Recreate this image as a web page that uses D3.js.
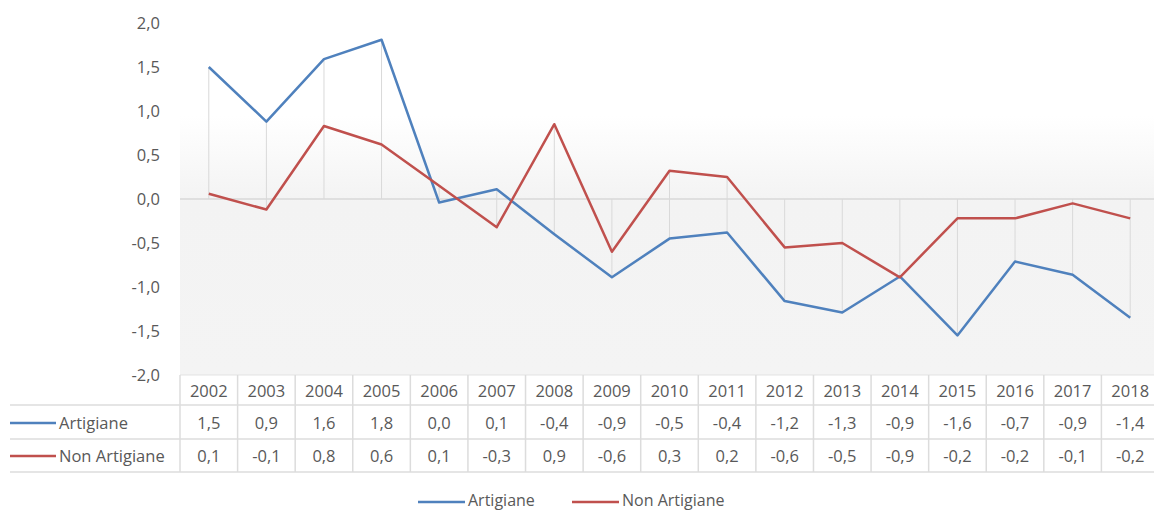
<!DOCTYPE html>
<html>
<head>
<meta charset="utf-8">
<script src="https://cdn.jsdelivr.net/npm/d3@7"></script>
<style>
  body { margin: 0; background: #fff; }
  svg { display: block; font-family: "Open Sans", sans-serif; }
</style>
</head>
<body>
<svg id="chart"></svg>
<script>
// data
const years = ["2002", "2003", "2004", "2005", "2006", "2007", "2008", "2009", "2010",
    "2011", "2012", "2013", "2014", "2015", "2016", "2017", "2018"];
const artigiane = [1.50, 0.88, 1.59, 1.81, -0.04, 0.11, -0.40, -0.89, -0.45,
    -0.38, -1.16, -1.29, -0.88, -1.55, -0.71, -0.86, -1.35];
const nonArtigiane = [0.06, -0.12, 0.83, 0.62, 0.15, -0.32, 0.85, -0.60, 0.32,
    0.25, -0.55, -0.50, -0.89, -0.22, -0.22, -0.05, -0.22];
// values as printed in the data table
const artigianeLabels = ["1,5", "0,9", "1,6", "1,8", "0,0", "0,1", "-0,4", "-0,9", "-0,5",
    "-0,4", "-1,2", "-1,3", "-0,9", "-1,6", "-0,7", "-0,9", "-1,4"];
const nonArtigianeLabels = ["0,1", "-0,1", "0,8", "0,6", "0,1", "-0,3", "0,9", "-0,6", "0,3",
    "0,2", "-0,6", "-0,5", "-0,9", "-0,2", "-0,2", "-0,1", "-0,2"];
const yTicks = [2, 1.5, 1, 0.5, 0, -0.5, -1, -1.5, -2];

const series = [
    { name: "Artigiane", values: artigiane, labels: artigianeLabels, color: "#4f81bd" },
    { name: "Non Artigiane", values: nonArtigiane, labels: nonArtigianeLabels, color: "#c0504d" }
];

let width = 1154;
let height = 512;
const textColor = "#595959";
const gridColor = "#d9d9d9";
const fontSize = "16.5px";

let svg = d3.select("#chart")
    .attr("width", width)
    .attr("height", height);

let x = d3.scaleBand()
    .domain(years)
    .range([180, 1159]);

let y = d3.scaleLinear()
    .domain([-2, 2])
    .range([375, 23]);

const locale = d3.formatLocale({ decimal: ",", thousands: ".", grouping: [3], currency: ["", "€"], minus: "-" });
const fmt = locale.format(".1f");

// plot area gradient
let defs = svg.append("defs");
let grad = defs.append("linearGradient")
    .attr("id", "plotBg")
    .attr("x1", 0).attr("y1", 0).attr("x2", 0).attr("y2", 1);
grad.append("stop").attr("offset", "0%").attr("stop-color", "#ffffff");
grad.append("stop").attr("offset", "22%").attr("stop-color", "#ffffff");
grad.append("stop").attr("offset", "48%").attr("stop-color", "#f3f3f3");
grad.append("stop").attr("offset", "100%").attr("stop-color", "#f4f4f4");

svg.append("rect")
    .attr("x", x.range()[0])
    .attr("y", y(2) + 20)
    .attr("width", x.range()[1] - x.range()[0])
    .attr("height", y(-2) - y(2) - 20)
    .attr("fill", "url(#plotBg)");

// y axis labels
let yAxis = svg.append("g")
    .attr("transform", "translate(" + x.range()[0] + ",0)")
    .call(d3.axisLeft(y).tickValues(yTicks).tickFormat(fmt).tickSize(0).tickPadding(20));
yAxis.select(".domain").remove();
yAxis.selectAll("text")
    .attr("fill", textColor)
    .style("font-size", fontSize)
    .style("font-family", "'Open Sans', sans-serif");

// drop lines
svg.append("g")
    .selectAll("line")
    .data(years)
    .enter()
    .append("line")
    .attr("x1", d => x(d) + x.bandwidth() / 2)
    .attr("x2", d => x(d) + x.bandwidth() / 2)
    .attr("y1", (d, i) => y(Math.max(0, artigiane[i], nonArtigiane[i])))
    .attr("y2", (d, i) => y(Math.min(0, artigiane[i], nonArtigiane[i])))
    .attr("stroke", gridColor)
    .attr("stroke-width", 1);

// zero axis line
svg.append("line")
    .attr("x1", x.range()[0])
    .attr("x2", x.range()[1])
    .attr("y1", y(0))
    .attr("y2", y(0))
    .attr("stroke", gridColor)
    .attr("stroke-width", 1.5);

// series lines
let line = d3.line()
    .x((d, i) => x(years[i]) + x.bandwidth() / 2)
    .y(d => y(d));

svg.append("g")
    .selectAll("path")
    .data(series)
    .enter()
    .append("path")
    .attr("d", d => line(d.values))
    .attr("fill", "none")
    .attr("stroke", d => d.color)
    .attr("stroke-width", 2.5)
    .attr("stroke-linejoin", "round");

// data table
const tableTop = y(-2);
const rowLines = [405, 439, 472];
const rowMid = [391, 423, 456];
let table = svg.append("g");

table.append("line")
    .attr("x1", x.range()[0]).attr("x2", width)
    .attr("y1", tableTop).attr("y2", tableTop)
    .attr("stroke", "#e3e3e3");

table.selectAll(".hline")
    .data(rowLines)
    .enter()
    .append("line")
    .attr("class", "hline")
    .attr("x1", 10).attr("x2", width)
    .attr("y1", d => d).attr("y2", d => d)
    .attr("stroke", "#dcdcdc")
    .attr("stroke-width", 1.5);

table.selectAll(".vline")
    .data(years)
    .enter()
    .append("line")
    .attr("class", "vline")
    .attr("x1", d => x(d)).attr("x2", d => x(d))
    .attr("y1", tableTop).attr("y2", rowLines[2])
    .attr("stroke", "#dcdcdc")
    .attr("stroke-width", 1.5);

table.selectAll(".year")
    .data(years)
    .enter()
    .append("text")
    .attr("class", "year")
    .attr("x", d => x(d) + x.bandwidth() / 2)
    .attr("y", rowMid[0])
    .attr("dy", "0.35em")
    .attr("text-anchor", "middle")
    .attr("fill", textColor)
    .style("font-size", fontSize)
    .text(d => d);

series.forEach((s, k) => {
    let row = table.append("g");
    row.append("line")
        .attr("x1", 10).attr("x2", 56)
        .attr("y1", rowMid[k + 1]).attr("y2", rowMid[k + 1])
        .attr("stroke", s.color)
        .attr("stroke-width", 2.5);
    row.append("text")
        .attr("x", 59)
        .attr("y", rowMid[k + 1])
        .attr("dy", "0.35em")
        .attr("fill", textColor)
        .style("font-size", fontSize)
        .text(s.name);
    row.selectAll(".val")
        .data(s.labels)
        .enter()
        .append("text")
        .attr("class", "val")
        .attr("x", (d, i) => x(years[i]) + x.bandwidth() / 2)
        .attr("y", rowMid[k + 1])
        .attr("dy", "0.35em")
        .attr("text-anchor", "middle")
        .attr("fill", textColor)
        .style("font-size", fontSize)
        .text(d => d);
});

// legend
const legendX = [418, 572];
const legendY = 501;
let legend = svg.append("g");
series.forEach((s, k) => {
    legend.append("line")
        .attr("x1", legendX[k]).attr("x2", legendX[k] + 47)
        .attr("y1", legendY + 1).attr("y2", legendY + 1)
        .attr("stroke", s.color)
        .attr("stroke-width", 2.5);
    legend.append("text")
        .attr("x", legendX[k] + 50)
        .attr("y", legendY)
        .attr("dy", "0.3em")
        .attr("fill", textColor)
        .style("font-size", "16px")
        .text(s.name);
});
</script>
</body>
</html>
